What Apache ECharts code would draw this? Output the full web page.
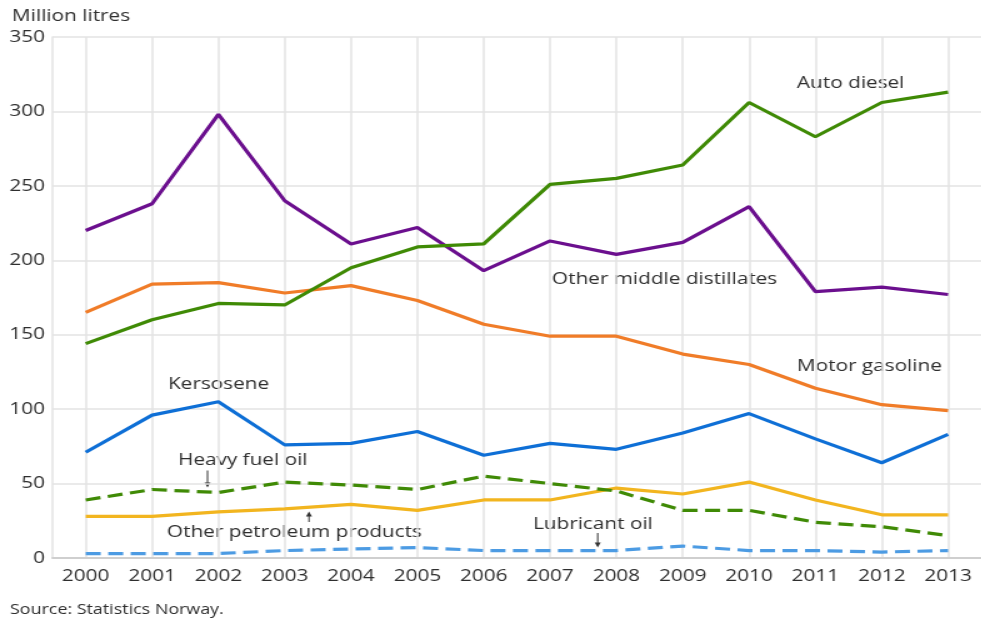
<!DOCTYPE html>
<html>
<head>
<meta charset="utf-8">
<script src="https://cdn.jsdelivr.net/npm/echarts@6/dist/echarts.min.js"></script>
<style>
html,body{margin:0;padding:0;background:#fff;overflow:hidden;}
#wrap{width:981px;height:621px;overflow:hidden;}
#chart{width:784.8px;height:621px;transform:scaleX(1.25);transform-origin:0 0;}
</style>
</head>
<body>
<div id="wrap"><div id="chart"></div></div>
<script>
var years = ['2000','2001','2002','2003','2004','2005','2006','2007','2008','2009','2010','2011','2012','2013'];
var yTicks = [0, 50, 100, 150, 200, 250, 300, 350];

var autoDiesel = [144, 160, 171, 170, 195, 209, 211, 251, 255, 264, 306, 283, 306, 313];
var otherMiddle = [220, 238, 298, 240, 211, 222, 193, 213, 204, 212, 236, 179, 182, 177];
var motorGasoline = [165, 184, 185, 178, 183, 173, 157, 149, 149, 137, 130, 114, 103, 99];
var kerosene = [71, 96, 105, 76, 77, 85, 69, 77, 73, 84, 97, 80, 64, 83];
var heavyFuel = [39, 46, 44, 51, 49, 46, 55, 50, 45, 32, 32, 24, 21, 15];
var otherPetroleum = [28, 28, 31, 33, 36, 32, 39, 39, 47, 43, 51, 39, 29, 29];
var lubricant = [3, 3, 3, 5, 6, 7, 5, 5, 5, 8, 5, 5, 4, 5];

var seriesNames = ['Auto diesel', 'Other middle distillates', 'Motor gasoline', 'Kersosene',
  'Heavy fuel oil', 'Other petroleum products', 'Lubricant oil'];

var SX = 1.25; // horizontal stretch of the whole picture
function px(x){ return x / SX; }

var FONT = '"Open Sans", sans-serif';
var TXT = '#2e2e2e';

function label(text, x, y, size){
  return {type:'text', x: px(x), y: y, silent:true,
    style:{text:text, fill:TXT, font: (size||16.6) + 'px ' + FONT, verticalAlign:'middle', align:'left'}};
}
function arrow(x, y1, y2){
  var dir = y2 > y1 ? 1 : -1;
  return [
    {type:'line', silent:true, shape:{x1:px(x), y1:y1, x2:px(x), y2:y2 - dir*3},
      style:{stroke:'#333', lineWidth:1}},
    {type:'polygon', silent:true, shape:{points:[[px(x)-2.4, y2 - dir*5],[px(x)+2.4, y2 - dir*5],[px(x), y2]]},
      style:{fill:'#333'}}
  ];
}

var chart = echarts.init(document.getElementById('chart'), null, {renderer:'canvas'});

function lineSeries(name, data, color, dashed){
  return {
    name:name, type:'line', data:data, symbol:'none', smooth:false,
    lineStyle:{color:color, width:3.2, type: dashed ? [12, 6] : 'solid'},
    itemStyle:{color:color}, animation:false
  };
}

var graphics = [
  label('Million litres', 12, 16),
  label('Source: Statistics Norway.', 10, 610, 14.3),
  label('Auto diesel', 797, 83),
  label('Other middle distillates', 552, 279.5),
  label('Motor gasoline', 797, 366),
  label('Kersosene', 168, 384),
  label('Heavy fuel oil', 178, 460.5),
  label('Other petroleum products', 167, 532.5),
  label('Lubricant oil', 533, 524.5)
].concat(arrow(207.5, 470.5, 487.5))
 .concat(arrow(309, 522, 511.5))
 .concat(arrow(597.7, 533, 547.5));

chart.setOption({
  animation:false,
  backgroundColor:'#ffffff',
  grid:{left:42.04, top:37, bottom:63, right:-6.5, containLabel:false},
  xAxis:{
    type:'category', data:years, boundaryGap:true,
    axisLine:{show:true, lineStyle:{color:'#cfcfcf', width:2}},
    axisTick:{show:false},
    axisLabel:{color:TXT, fontSize:16.6, fontFamily:FONT, margin:10, interval:0},
    splitLine:{show:true, interval:0, alignWithLabel:true, lineStyle:{color:'#e3e3e3', width:1.5}}
  },
  yAxis:{
    type:'value', min:yTicks[0], max:yTicks[yTicks.length-1], interval:50,
    axisLine:{show:true, lineStyle:{color:'#e3e3e3', width:1.5}},
    axisTick:{show:false},
    axisLabel:{color:TXT, fontSize:16.6, fontFamily:FONT, margin:6},
    splitLine:{show:true, lineStyle:{color:'#e3e3e3', width:1.5}}
  },
  series:[
    lineSeries(seriesNames[6], lubricant, '#4c9be3', true),
    lineSeries(seriesNames[5], otherPetroleum, '#f2b51f', false),
    lineSeries(seriesNames[4], heavyFuel, '#3f8a05', true),
    lineSeries(seriesNames[3], kerosene, '#0e6fd6', false),
    lineSeries(seriesNames[2], motorGasoline, '#f07c28', false),
    lineSeries(seriesNames[1], otherMiddle, '#6b0f8e', false),
    lineSeries(seriesNames[0], autoDiesel, '#3f8a05', false)
  ],
  graphic:graphics
});
</script>
</body>
</html>
